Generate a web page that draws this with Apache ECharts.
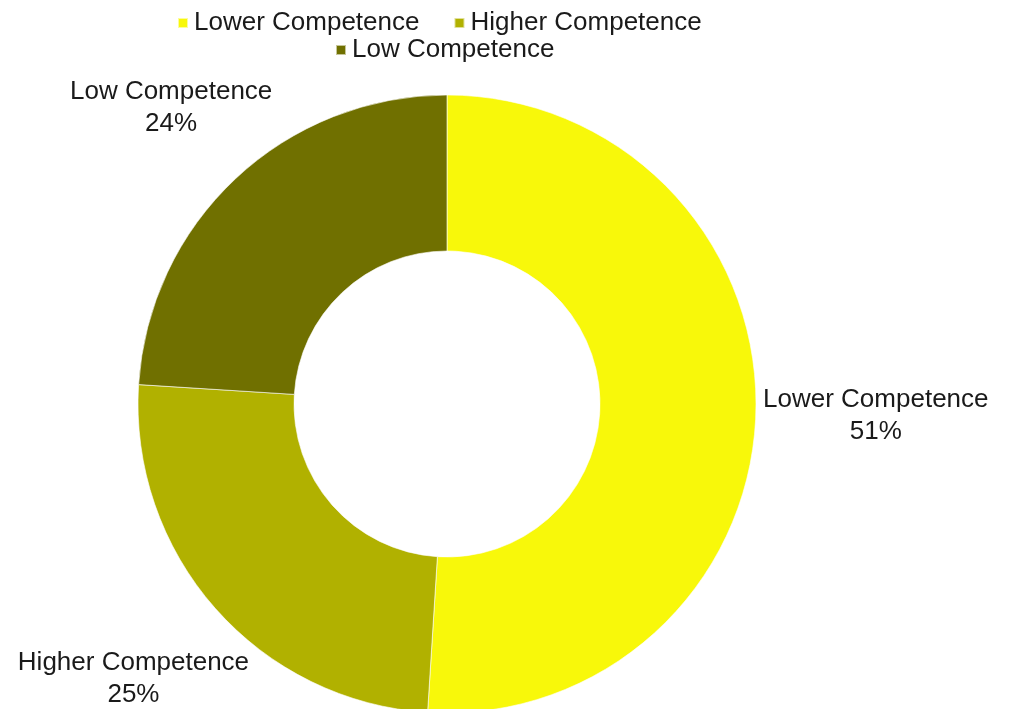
<!DOCTYPE html>
<html>
<head>
<meta charset="utf-8">
<title>Competence Levels</title>
<script src="https://cdn.jsdelivr.net/npm/echarts@6/dist/echarts.min.js"></script>
<style>
  html, body { margin: 0; padding: 0; background: #ffffff; }
  #chart { width: 1013px; height: 709px; }
</style>
</head>
<body>
<div id="chart"></div>
<script>
// Share of respondents per competence level (percent)
const categories = ['Lower Competence', 'Higher Competence', 'Low Competence'];
const shares = [51, 25, 24];
const sliceColors = ['#F8F80A', '#B1B100', '#707000'];

// Radial distance of each data label's centre from the ring centre
const labelRadius = [429, 418, 403];

const CX = 447, CY = 404;
const FONT = '"Liberation Sans", Arial, sans-serif';

// Mid-angle of each slice (clockwise from 12 o'clock), from the data
const total = shares.reduce((a, b) => a + b, 0);
const midAngles = [];
let acc = 0;
shares.forEach(v => {
  midAngles.push(((acc + v / 2) / total) * 2 * Math.PI);
  acc += v;
});

const chart = echarts.init(document.getElementById('chart'), null, { renderer: 'canvas' });

const legendText = { fontFamily: FONT, fontSize: 26, color: '#1a1a1a', padding: [0, 0, 0, 1] };

chart.setOption({
  animation: false,
  backgroundColor: '#ffffff',
  color: sliceColors,
  legend: [
    {
      data: categories.slice(0, 2),
      left: 172, top: 5,
      icon: 'rect', itemWidth: 10, itemHeight: 10, itemGap: 34,
      textStyle: legendText,
      selectedMode: false
    },
    {
      data: categories.slice(2),
      left: 330, top: 32,
      icon: 'rect', itemWidth: 10, itemHeight: 10,
      textStyle: legendText,
      selectedMode: false
    }
  ],
  series: [{
    type: 'pie',
    center: [CX, CY],
    radius: [153, 309],
    startAngle: 90,
    clockwise: true,
    itemStyle: { borderColor: 'rgba(255,255,255,0.6)', borderWidth: 1 },
    label: {
      show: true,
      position: 'outside',
      formatter: '{b}\n{c}%',
      fontFamily: FONT,
      fontSize: 26,
      lineHeight: 32,
      color: '#1a1a1a',
      align: 'center',
      overflow: 'none'
    },
    labelLine: { show: false },
    labelLayout: function (p) {
      const a = midAngles[p.dataIndex];
      const r = labelRadius[p.dataIndex];
      return {
        x: CX + r * Math.sin(a),
        y: CY - r * Math.cos(a) - 2,
        align: 'center',
        verticalAlign: 'middle',
        width: 300
      };
    },
    emphasis: { disabled: true },
    data: categories.map((name, i) => ({ name: name, value: shares[i] }))
  }]
});
</script>
</body>
</html>
